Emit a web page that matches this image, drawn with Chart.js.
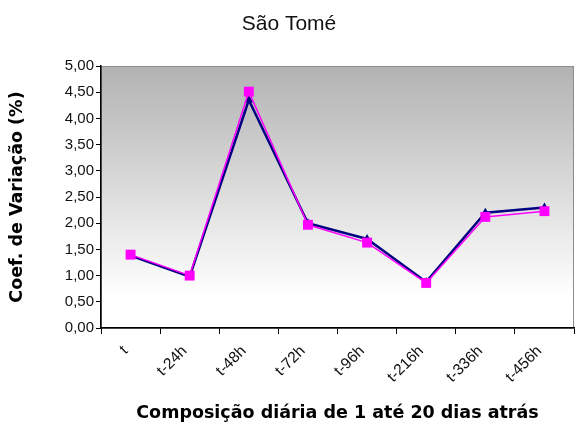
<!DOCTYPE html>
<html>
<head>
<meta charset="utf-8">
<script src="https://cdn.jsdelivr.net/npm/chart.js@4/dist/chart.umd.min.js"></script>
<style>
  html, body { margin: 0; padding: 0; background: #fff; }
  #wrap { width: 581px; height: 436px; }
</style>
</head>
<body>
<div id="wrap"><canvas id="c" width="581" height="436"></canvas></div>
<script>
// categories and values
const categories = ['t', 't-24h', 't-48h', 't-72h', 't-96h', 't-216h', 't-336h', 't-456h'];
const navySeries = [1.38, 0.98, 4.35, 2.00, 1.70, 0.88, 2.20, 2.30];
const magentaSeries = [1.40, 1.00, 4.51, 1.97, 1.63, 0.86, 2.12, 2.23];
const yTicks = [0, 0.5, 1, 1.5, 2, 2.5, 3, 3.5, 4, 4.5, 5];

// grey-to-white plot background with a thin grey frame
const plotBackground = {
    id: 'plotBackground',
    beforeDraw(chart) {
        const { ctx, chartArea: a } = chart;
        const g = ctx.createLinearGradient(0, a.top, 0, a.bottom);
        g.addColorStop(0, '#b2b2b2');
        g.addColorStop(0.88, '#ffffff');
        g.addColorStop(1, '#ffffff');
        ctx.save();
        ctx.fillStyle = g;
        ctx.fillRect(a.left, a.top, a.right - a.left, a.bottom - a.top);
        ctx.strokeStyle = '#8c8c8c';
        ctx.lineWidth = 1;
        ctx.strokeRect(a.left + 0.5, a.top + 0.5, a.right - a.left - 1, a.bottom - a.top);
        ctx.restore();
    }
};

new Chart(document.getElementById('c'), {
    type: 'line',
    data: {
        labels: categories,
        datasets: [
            {
                label: 'B',
                data: magentaSeries,
                borderColor: '#ff00ff',
                backgroundColor: '#ff00ff',
                borderWidth: 1.5,
                pointStyle: 'rect',
                pointRadius: 7,
                pointBorderWidth: 0,
                order: 0
            },
            {
                label: 'A',
                data: navySeries,
                borderColor: '#000080',
                backgroundColor: '#000080',
                borderWidth: 2.5,
                pointStyle: 'triangle',
                pointRadius: 5,
                pointBorderWidth: 0,
                order: 1
            }
        ]
    },
    options: {
        responsive: false,
        animation: false,
        layout: { padding: { top: 0, right: 3, bottom: 0, left: 0 } },
        plugins: {
            legend: { display: false },
            tooltip: { enabled: false },
            title: {
                display: true,
                text: 'São Tomé',
                color: '#111',
                font: { family: 'Liberation Sans, Arial', size: 21, weight: 'normal' },
                padding: { top: 12, bottom: 28.8 }
            }
        },
        scales: {
            x: {
                type: 'category',
                offset: true,
                grid: {
                    offset: true,
                    drawOnChartArea: false,
                    color: '#000',
                    tickLength: 6
                },
                border: { color: '#000', width: 1.5 },
                ticks: {
                    minRotation: 45,
                    maxRotation: 45,
                    color: '#111',
                    padding: 8,
                    labelOffset: -5,
                    font: { family: 'Liberation Sans, Arial', size: 15.5 }
                },
                title: {
                    display: true,
                    text: 'Composição diária de 1 até 20 dias atrás',
                    color: '#000',
                    font: { family: 'DejaVu Sans', size: 17.5, weight: 'bold' },
                    padding: { top: 0, bottom: 12 }
                },
                afterFit(scale) { scale.height = 108; }
            },
            y: {
                min: 0,
                max: 5,
                afterBuildTicks(scale) { scale.ticks = yTicks.map(v => ({ value: v })); },
                grid: {
                    drawOnChartArea: false,
                    color: '#000',
                    tickLength: 5
                },
                border: { color: '#000', width: 1.5 },
                ticks: {
                    color: '#111',
                    padding: 2,
                    font: { family: 'Liberation Sans, Arial', size: 15 },
                    callback: v => Number(v).toFixed(2).replace('.', ',')
                },
                title: {
                    display: true,
                    text: 'Coef. de Variação (%)',
                    color: '#000',
                    font: { family: 'DejaVu Sans', size: 17.5, weight: 'bold' },
                    padding: { top: 7, bottom: 0 }
                },
                afterFit(scale) { scale.width = 101; }
            }
        }
    },
    plugins: [plotBackground]
});
</script>
</body>
</html>
